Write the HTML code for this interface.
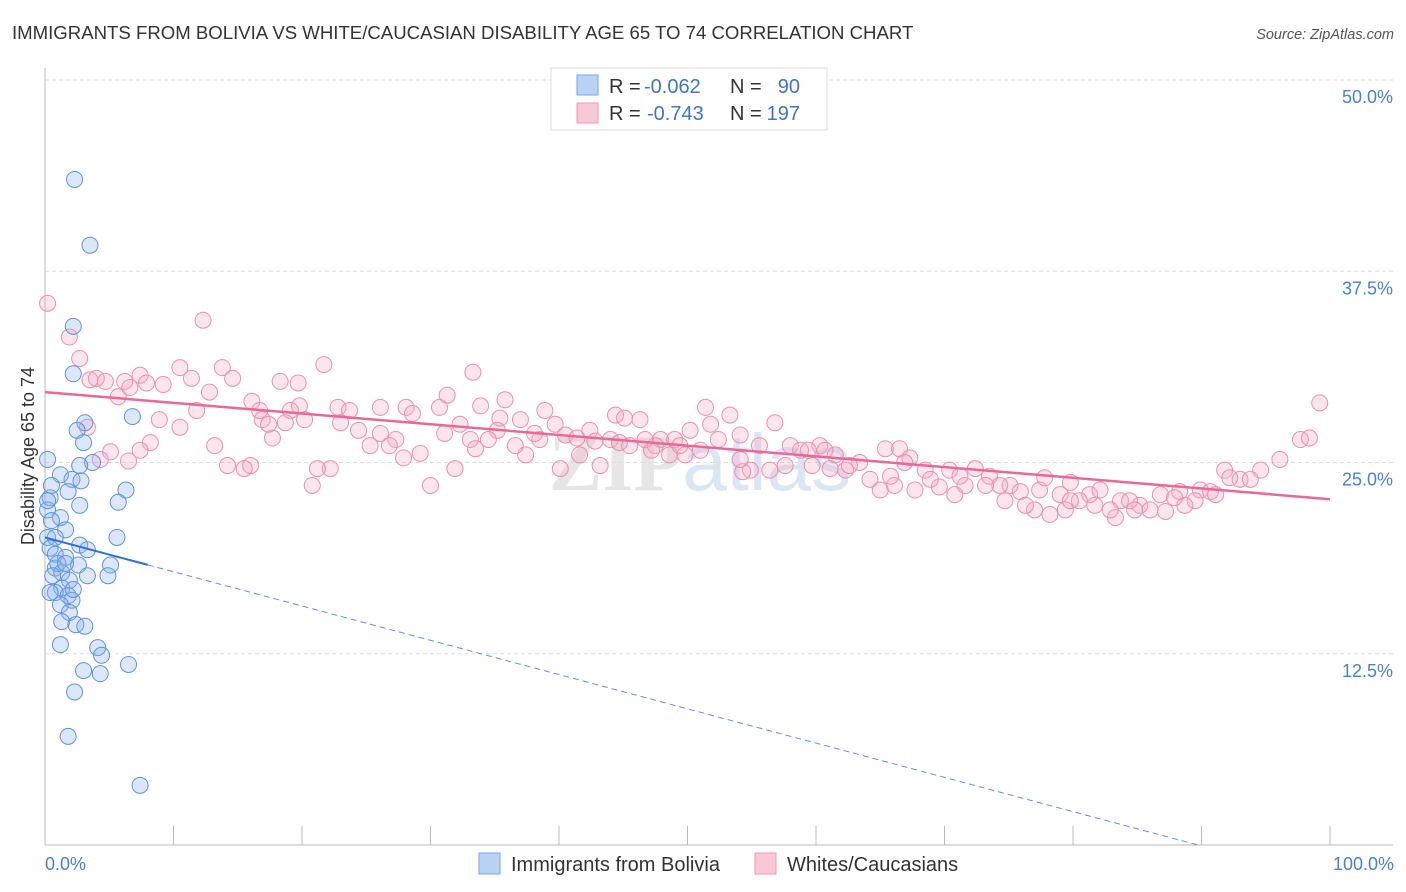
<!DOCTYPE html>
<html><head><meta charset="utf-8"><style>
body{margin:0;background:#fff;font-family:"Liberation Sans",sans-serif;}
#wrap{position:relative;width:1406px;height:892px;overflow:hidden;}
</style></head><body>
<div id="wrap">
<svg id="svg" width="1406" height="892" xmlns="http://www.w3.org/2000/svg">
<defs><clipPath id="plotclip"><rect x="45" y="60" width="1360" height="785"/></clipPath></defs>
<text x="12" y="39" font-size="18.6" fill="#333">IMMIGRANTS FROM BOLIVIA VS WHITE/CAUCASIAN DISABILITY AGE 65 TO 74 CORRELATION CHART</text>
<text x="1394" y="39" font-size="14.5" fill="#555" font-style="italic" text-anchor="end">Source: ZipAtlas.com</text>
<text x="700" y="490" font-size="80" fill="#e6e6e6" text-anchor="middle" font-family="Liberation Serif,serif" font-weight="bold">ZIP<tspan fill="#dbe6f3" font-family="Liberation Sans,sans-serif" font-weight="normal">atlas</tspan></text>
<g id="grid"></g>
<g id="axes"></g>
<g id="pts"></g>
<g id="trend" clip-path="url(#plotclip)"></g>
<text x="34" y="456" font-size="18" fill="#333" text-anchor="middle" transform="rotate(-90 34 456)">Disability Age 65 to 74</text>
<text x="45" y="870" font-size="18" fill="#4a7fd4">0.0%</text>
<text x="1394" y="870" font-size="18" fill="#4a7fd4" text-anchor="end">100.0%</text>
<g>
<rect x="551" y="68" width="276" height="62" fill="#fff" stroke="#ddd"/>
<rect x="577" y="75" width="21" height="20" fill="#b9d3f5" stroke="#7aa6e4"/>
<rect x="577" y="103" width="21" height="20" fill="#f9c8d6" stroke="#ee9ab4"/>
<text x="609" y="93" font-size="20" fill="#333">R =</text>
<text x="644" y="93" font-size="20" fill="#3d74cf">-0.062</text>
<text x="730" y="93" font-size="20" fill="#333">N =</text>
<text x="800" y="93" font-size="20" fill="#3d74cf" text-anchor="end">90</text>
<text x="609" y="120" font-size="20" fill="#333">R =</text>
<text x="647" y="120" font-size="20" fill="#3d74cf">-0.743</text>
<text x="730" y="120" font-size="20" fill="#333">N =</text>
<text x="800" y="120" font-size="20" fill="#3d74cf" text-anchor="end">197</text>
</g>
<g>
<rect x="479" y="853" width="21" height="21" fill="#b9d3f5" stroke="#7aa6e4"/>
<text x="511" y="871" font-size="20" fill="#333">Immigrants from Bolivia</text>
<rect x="755" y="853" width="21" height="21" fill="#f9c8d6" stroke="#ee9ab4"/>
<text x="787" y="871" font-size="20" fill="#333">Whites/Caucasians</text>
</g>
</svg>
</div>
<script>
const yTicks=[12.5,25,37.5,50];
const yTickLabels=["12.5%","25.0%","37.5%","50.0%"];
const xTicks=[0,10,20,30,40,50,60,70,80,90,100];
const blueX=[2.3,3.5,2.2,2.2,6.8,3.1,2.5,3.0,3.7,2.7,1.2,2.1,2.8,1.8,6.3,0.4,5.7,2.7,0.2,1.2,0.5,1.6,0.2,0.8,5.6,2.7,3.3,0.4,0.8,1.6,2.6,5.1,0.8,1.3,3.3,4.9,1.9,1.3,0.8,1.8,2.1,1.2,1.9,1.3,2.4,3.1,1.2,4.1,4.4,6.5,3.0,4.3,2.3,1.8,7.4,0.2,0.5,0.2,1.0,0.4,0.6,1.6,2.2];
const blueY=[43.5,39.2,33.9,30.8,28.0,27.6,27.1,26.3,25.0,24.8,24.2,23.9,23.8,23.1,23.2,22.7,22.4,22.2,21.9,21.4,21.2,20.6,20.1,20.1,20.1,19.6,19.3,19.4,19.0,18.8,18.3,18.3,18.1,17.8,17.6,17.6,17.3,16.8,16.5,16.3,16.0,15.7,15.2,14.6,14.4,14.3,13.1,12.9,12.4,11.8,11.4,11.2,10.0,7.1,3.9,25.2,23.5,22.5,18.4,16.5,17.6,18.4,16.7];
const pink=[[0.2,35.4],[1.9,33.2],[2.7,31.8],[3.5,30.4],[4.0,30.5],[4.7,30.3],[5.7,29.3],[6.6,29.9],[7.4,30.7],[7.9,30.2],[9.2,30.1],[10.5,31.2],[11.4,30.5],[12.3,34.3],[12.8,29.6],[13.8,31.2],[14.6,30.5],[16.1,29.0],[18.3,30.3],[19.7,30.2],[21.7,31.4],[22.8,28.6],[16.9,27.8],[20.2,27.8],[23.7,28.4],[26.1,28.6],[28.1,28.6],[28.6,28.2],[30.7,28.6],[31.3,29.4],[33.3,30.9],[33.9,28.7],[35.4,27.9],[35.8,29.1],[37.0,27.8],[38.9,28.4],[39.7,27.5],[40.5,26.8],[41.4,26.6],[42.4,27.1],[44.4,28.1],[45.1,27.9],[46.3,27.8],[47.9,26.5],[49.0,26.5],[50.2,27.1],[51.4,28.6],[51.8,27.5],[53.3,28.1],[54.1,26.8],[55.6,26.1],[56.8,27.6],[58.0,26.1],[58.8,25.8],[60.3,26.1],[61.5,25.5],[63.4,25.0],[65.4,25.9],[66.5,25.9],[67.3,25.3],[68.5,24.5],[70.4,24.5],[72.4,24.6],[73.5,24.1],[75.1,23.5],[75.9,23.1],[77.4,23.2],[79.0,22.9],[79.8,23.7],[81.3,22.9],[82.1,23.2],[83.7,22.5],[85.2,22.2],[86.8,22.9],[88.3,23.1],[89.9,23.2],[90.7,23.1],[91.8,24.5],[93.0,23.9],[94.6,24.5],[96.1,25.2],[97.7,26.5],[99.2,28.9],[98.4,26.6],[93.8,23.9],[92.2,24.0],[91.1,22.9],[89.5,22.5],[87.9,22.7],[87.2,21.8],[86.0,21.9],[84.4,22.5],[83.3,21.4],[82.9,21.9],[81.7,22.2],[80.5,22.5],[79.4,21.9],[78.2,21.6],[77.0,21.9],[76.3,22.2],[74.7,22.5],[74.3,23.5],[73.2,23.5],[71.6,23.5],[70.8,22.9],[69.6,23.4],[68.9,23.9],[67.7,23.2],[66.1,23.5],[65.0,23.2],[64.2,23.9],[62.3,24.5],[61.1,24.6],[59.7,24.8],[57.6,24.8],[56.4,24.5],[54.9,24.5],[54.3,24.4],[52.4,26.5],[51.0,25.8],[49.8,25.5],[48.6,25.5],[47.5,26.1],[46.7,26.5],[45.5,26.1],[44.0,26.5],[43.2,24.8],[42.8,26.4],[41.6,25.5],[40.1,24.6],[38.5,26.5],[37.4,25.5],[36.6,26.1],[35.2,27.1],[34.5,26.5],[33.1,26.5],[31.9,24.6],[31.1,26.9],[30.0,23.5],[29.2,25.6],[27.9,25.3],[27.3,26.5],[26.8,26.1],[25.3,26.1],[24.4,27.1],[23.0,27.6],[22.2,24.6],[21.2,24.6],[20.8,23.5],[19.8,28.7],[19.1,28.4],[17.7,26.6],[17.4,27.5],[16.0,24.8],[15.5,24.6],[14.2,24.8],[13.2,26.1],[11.8,28.4],[10.5,27.3],[8.2,26.3],[6.5,25.1],[5.1,25.7],[4.3,25.2],[3.3,27.3],[6.2,30.3],[7.4,25.8],[8.9,27.8],[16.7,28.4],[18.7,27.6],[26.1,26.9],[32.3,27.5],[33.5,25.9],[38.1,26.9],[44.7,26.3],[47.2,25.8],[49.4,26.1],[54.1,25.2],[59.4,25.8],[60.7,25.8],[62.6,24.8],[65.8,24.1],[66.9,25.0],[71.2,24.1],[77.8,24.0],[79.8,22.5],[84.8,21.9],[88.7,22.2]];
const pinkX=pink.map(p=>p[0]);
const pinkY=pink.map(p=>p[1]);
const blueTrend=[20.1,-2.3];
const pinkTrend=[29.6,22.6];
const blueSolidEnd=8;

const NS="http://www.w3.org/2000/svg";
const X=v=>45+v*12.85;
const Y=v=>845-v*15.3;
function mk(tag,attrs,parent){const e=document.createElementNS(NS,tag);for(const k in attrs)e.setAttribute(k,attrs[k]);document.getElementById(parent).appendChild(e);return e;}
yTicks.forEach((t,i)=>{
  const l=mk('line',{x1:45,x2:1393,y1:Y(t),y2:Y(t),stroke:'#ddd','stroke-dasharray':'4,3'},'grid');
  
  
  const tx=mk('text',{x:1393,y:Y(t)+23,'font-size':18,fill:'#4a7fd4','text-anchor':'end'},'grid');
  tx.textContent=yTickLabels[i];
  
  
});
const ax=mk('line',{x1:45,x2:45,y1:68,y2:845,stroke:'#bbb'},'axes');


const bx=mk('line',{x1:45,x2:1393,y1:845,y2:845,stroke:'#bbb'},'axes');


xTicks.forEach(t=>{
  const l=mk('line',{x1:X(t),x2:X(t),y1:826,y2:845,stroke:'#bbb'},'axes');
  
  
});
pinkX.forEach((x,i)=>{
  const c=mk('circle',{cx:X(x),cy:Y(pinkY[i]),r:8,fill:'rgba(245,170,195,0.3)',stroke:'#eb8fae','stroke-width':1},'pts');
  
  
});
blueX.forEach((x,i)=>{
  const c=mk('circle',{cx:X(x),cy:Y(blueY[i]),r:8,fill:'rgba(140,180,240,0.3)',stroke:'#5f93de','stroke-width':1},'pts');
  
  
});
const bAt=x=>blueTrend[0]+(blueTrend[1]-blueTrend[0])*x/100;
const t1=mk('line',{x1:X(0),y1:Y(bAt(0)),x2:X(blueSolidEnd),y2:Y(bAt(blueSolidEnd)),stroke:'#2f6fd6','stroke-width':2},'trend');


const t2=mk('line',{x1:X(blueSolidEnd),y1:Y(bAt(blueSolidEnd)),x2:X(100),y2:Y(bAt(100)),stroke:'#5f93de','stroke-width':1,'stroke-dasharray':'6,4'},'trend');


const t3=mk('line',{x1:X(0),y1:Y(pinkTrend[0]),x2:X(100),y2:Y(pinkTrend[1]),stroke:'#e8689a','stroke-width':2.5},'trend');


</script>
</body></html>
